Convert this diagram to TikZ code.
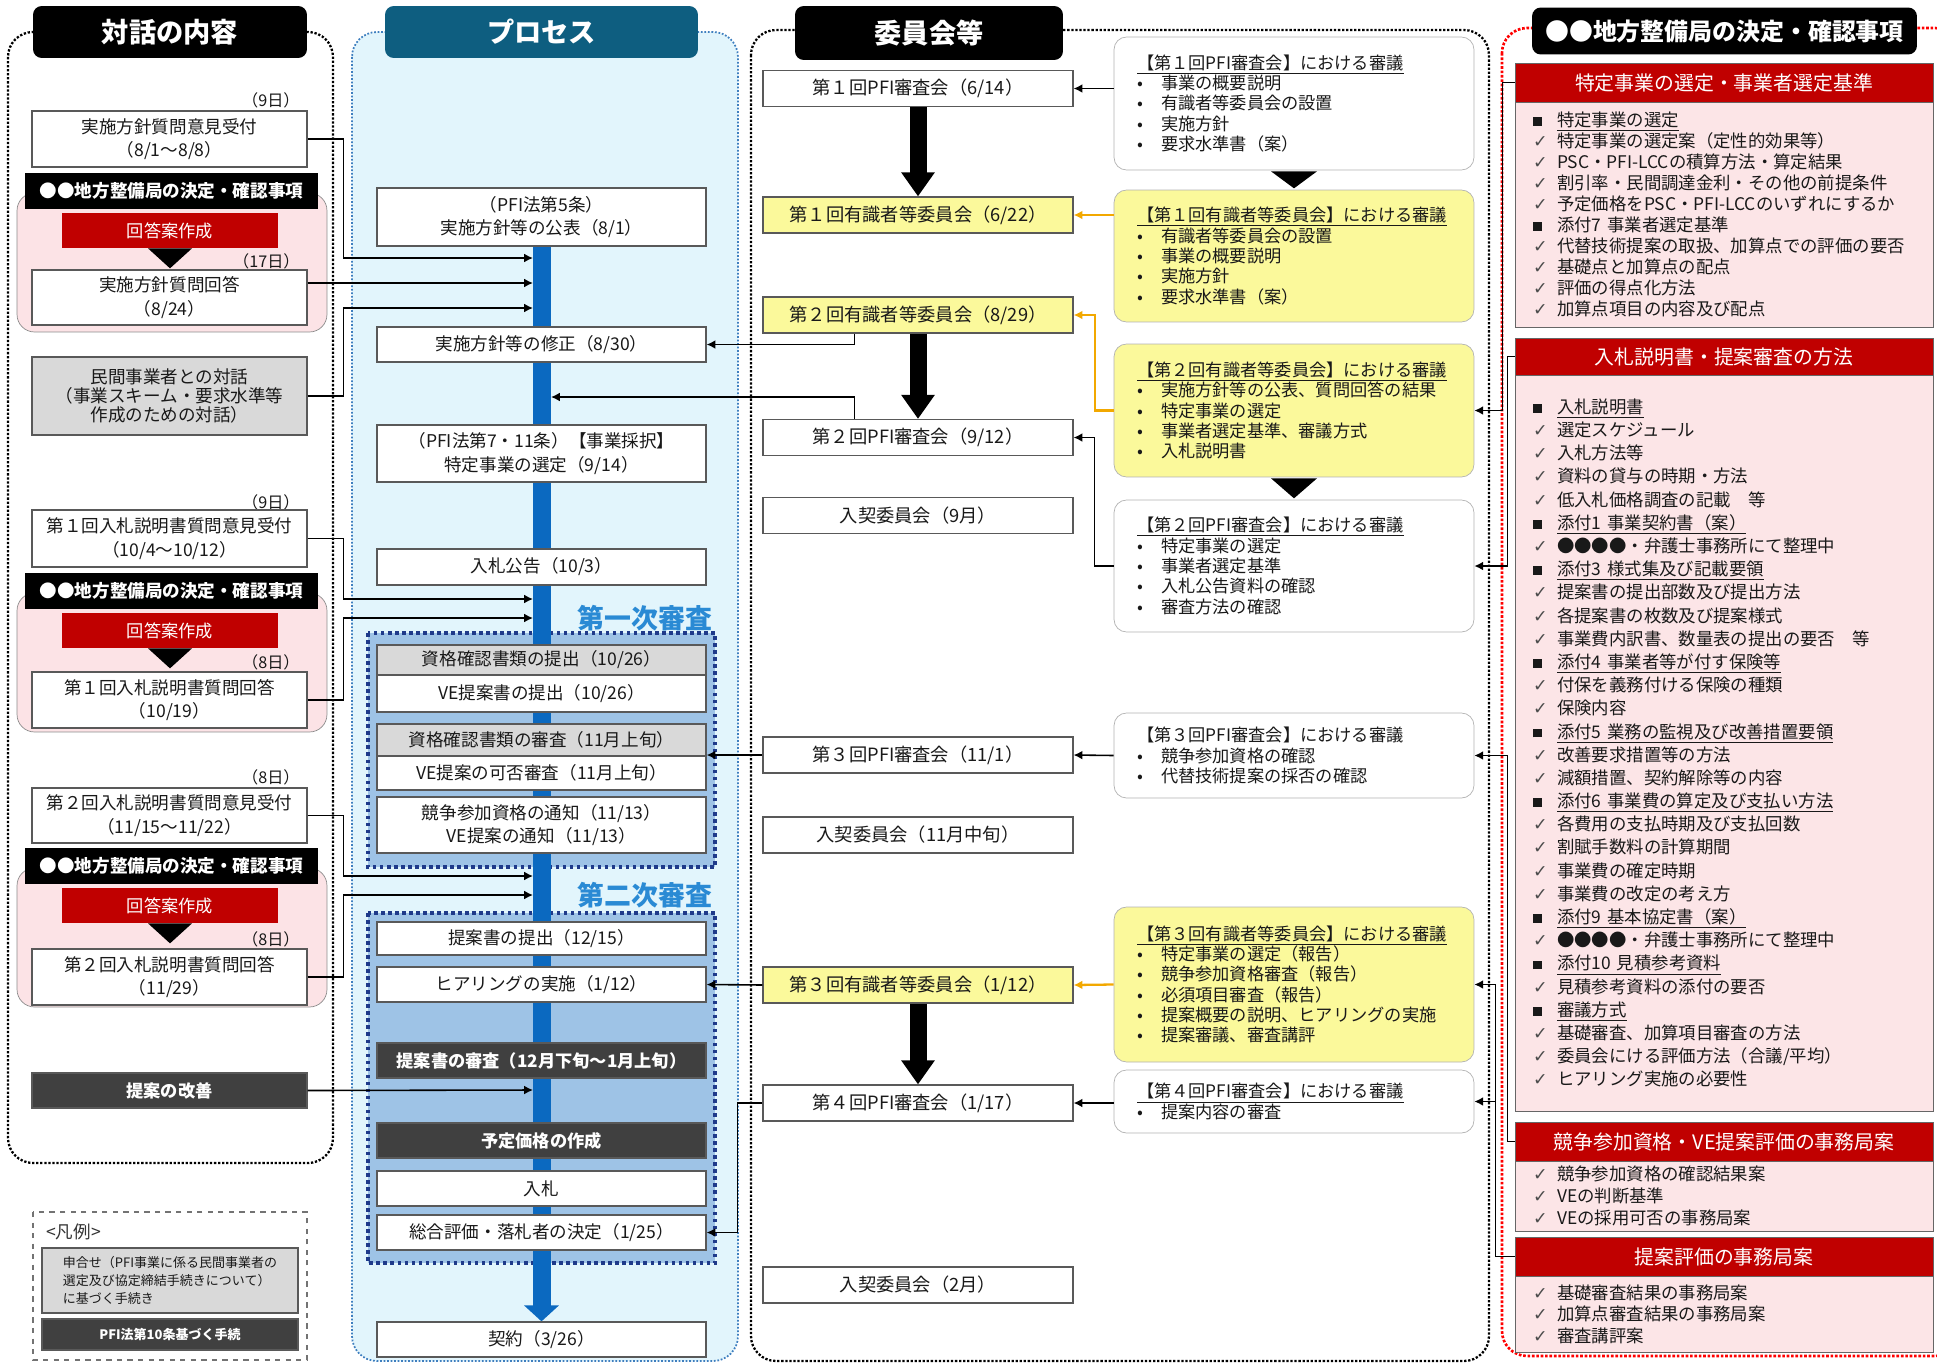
\documentclass[tikz,border=0pt]{standalone}
\usepackage{fontspec}
\setmainfont{Noto Sans CJK JP}
\newfontfamily\symfont{DejaVu Sans}
\usetikzlibrary{arrows.meta}
\definecolor{zonecyan}{HTML}{E2F5FC}
\definecolor{zoneblue}{HTML}{3F7FBF}
\definecolor{teal1}{HTML}{0E5E80}
\definecolor{barblue}{HTML}{0B69C0}
\definecolor{stagefill}{HTML}{9EC3E6}
\definecolor{stageline}{HTML}{1F3A8A}
\definecolor{stageblue}{HTML}{2A8AD4}
\definecolor{boxgray}{HTML}{D9D9D9}
\definecolor{boxdark}{HTML}{404040}
\definecolor{darkred}{HTML}{C00000}
\definecolor{pinkL}{HTML}{FCE3E6}
\definecolor{pinkR}{HTML}{FCE5E7}
\definecolor{yel}{HTML}{FBF99B}
\definecolor{orange1}{HTML}{F2A800}
\pgfdeclarelayer{back}
\pgfdeclarelayer{mid}
\pgfsetlayers{back,mid,main}
\newcommand{\itm}[1]{\makebox[0.48cm][l]{•}#1}
\newcommand{\chk}[1]{\makebox[0.48cm][l]{\symfont\color{black!70}✓}#1}
\newcommand{\sqr}[1]{\makebox[0.48cm][l]{\raisebox{0.4pt}{\rule{0.17cm}{0.17cm}}}#1}
\tikzset{
  box/.style={draw=black!65, line width=0.7pt, fill=white, align=center, inner sep=1pt, text=black!90, font=\fontsize{10}{13.4}\selectfont},
  lbox/.style={box, minimum width=5.5cm},
  pbox/.style={box, minimum width=6.58cm},
  cbox/.style={box, minimum width=6.2cm, minimum height=0.72cm, font=\fontsize{10.4}{13}\selectfont},
  graybox/.style={fill=boxgray},
  darkbox/.style={fill=boxdark, text=white, font=\fontsize{9.8}{13}\selectfont\bfseries},
  yelbox/.style={fill=yel},
  colhead/.style={fill=black, text=white, rounded corners=5pt, minimum height=1.04cm, font=\fontsize{15.5}{16}\selectfont\bfseries},
  band/.style={fill=black, text=white, minimum width=5.86cm, minimum height=0.72cm, inner sep=0pt, font=\fontsize{10}{11}\selectfont\bfseries},
  redbox/.style={fill=darkred, text=white, minimum width=4.32cm, minimum height=0.7cm, font=\fontsize{9.8}{11}\selectfont},
  pinkgrp/.style={draw=black!45, fill=pinkL, rounded corners=0.35cm, minimum width=6.2cm, minimum height=2.78cm},
  daylbl/.style={anchor=east, inner sep=0pt, text=black!90, font=\fontsize{9.2}{10}\selectfont},
  disc/.style={draw=black!30, fill=white, rounded corners=0.25cm, text width=6.28cm, inner xsep=0.46cm, align=left, text=black!90, font=\fontsize{9.8}{11.6}\selectfont},
  sechead/.style={draw=black!60, fill=darkred, text=white, minimum width=8.36cm, minimum height=0.78cm, font=\fontsize{11.3}{12}\selectfont},
  secbody/.style={draw=black!60, fill=pinkR, text width=7.64cm, inner xsep=0.36cm, inner ysep=1pt, align=left, text=black!90},
  arr/.style={line width=0.9pt, -{Latex[length=5pt,width=5pt]}},
  orarr/.style={arr, draw=orange1, line width=1.3pt},
  bigarr/.style={line width=0.34cm, -{Triangle[length=0.48cm,width=0.64cm]}},
  stagelbl/.style={text=stageblue, font=\fontsize{15.3}{16}\selectfont\bfseries},
  stagezone/.style={fill=stagefill, draw=stageline, line width=2pt, dash pattern=on 2pt off 2pt}
}
\begin{document}
\begin{tikzpicture}[x=0.02cm, y=-0.02cm]
\useasboundingbox (0,0) rectangle (1937,1363);
% column heads
\node[colhead, minimum width=5.48cm] (hdrL) at (170,32) {対話の内容};
\node[colhead, fill=teal1, minimum width=6.26cm] (hdrP) at (541.5,32) {プロセス};
\node[colhead, minimum width=5.36cm, minimum height=1.08cm] (hdrC) at (929,33) {委員会等};
\node[colhead, minimum width=7.7cm, minimum height=0.94cm, font=\fontsize{13.6}{14}\selectfont\bfseries] (hdrR) at (1724.5,31) {●●地方整備局の決定・確認事項};

% dialogue column
\node[daylbl] (dy1) at (300,100) {（9日）};
\node[lbox, minimum height=1.12cm] (qa1) at (169.5,139) {実施方針質問意見受付\\（8/1～8/8）};
\node[pinkgrp] (g1) at (172,262.5) {};
\node[band] (k1) at (171.5,190.5) {●●地方整備局の決定・確認事項};
\node[redbox] (r1) at (170,230.5) {回答案作成};
\fill (r1.south) ++(-22,0) -- ++(44,0) -- ++(-22,20) -- cycle;
\node[lbox, minimum height=1.1cm] (qa2) at (169.5,297.5) {実施方針質問回答\\（8/24）};
\node[daylbl] (dy2) at (300,261) {（17日）};
\node[lbox, graybox, minimum height=1.56cm, font=\fontsize{10}{11}\selectfont] (talk) at (169.5,396) {民間事業者との対話\\（事業スキーム・要求水準等\\作成のための対話）};
\node[daylbl] (dy3) at (300,502) {（9日）};
\node[lbox, minimum height=1.14cm] (qb1) at (169.5,538.5) {第１回入札説明書質問意見受付\\（10/4～10/12）};
\node[pinkgrp] (g2) at (172,662.5) {};
\node[band] (k2) at (171.5,591) {●●地方整備局の決定・確認事項};
\node[redbox] (r2) at (170,630.5) {回答案作成};
\fill (r2.south) ++(-22,0) -- ++(44,0) -- ++(-22,20) -- cycle;
\node[lbox, minimum height=1.12cm] (qb2) at (169.5,700) {第１回入札説明書質問回答\\（10/19）};
\node[daylbl] (dy4) at (300,662) {（8日）};
\node[daylbl] (dy5) at (300,777) {（8日）};
\node[lbox, minimum height=1.1cm] (qc1) at (169.5,815.5) {第２回入札説明書質問意見受付\\（11/15～11/22）};
\node[pinkgrp] (g3) at (172,937.5) {};
\node[band] (k3) at (171.5,865.5) {●●地方整備局の決定・確認事項};
\node[redbox] (r3) at (170,905.5) {回答案作成};
\fill (r3.south) ++(-22,0) -- ++(44,0) -- ++(-22,20) -- cycle;
\node[lbox, minimum height=1.12cm] (qc2) at (169.5,977) {第２回入札説明書質問回答\\（11/29）};
\node[daylbl] (dy6) at (300,939) {（8日）};
\node[lbox, darkbox, minimum height=0.7cm] (kaizen) at (169.5,1090.5) {提案の改善};

% legend
\draw[dashed, black!55, line width=0.8pt] (33,1212) rectangle (307,1360);
\node[anchor=west, text=black!80, font=\fontsize{10}{11}\selectfont] (legt) at (40,1232) {<凡例>};
\node[box, graybox, minimum width=5.12cm, minimum height=1.3cm, align=left, font=\fontsize{7.4}{10}\selectfont] (leg1) at (170,1280.5) {申合せ（PFI事業に係る民間事業者の\\選定及び協定締結手続きについて）\\に基づく手続き};
\node[box, darkbox, minimum width=5.12cm, minimum height=0.62cm, font=\fontsize{7.4}{9}\selectfont\bfseries] (leg2) at (170,1334.5) {PFI法第10条基づく手続};

% process column
\node[pbox, minimum height=1.16cm] (pub) at (541.5,217) {（PFI法第5条）\\実施方針等の公表（8/1）};
\node[pbox, minimum height=0.7cm] (fix) at (541.5,344.5) {実施方針等の修正（8/30）};
\node[pbox, minimum height=1.14cm] (sel) at (541.5,453.5) {（PFI法第7・11条）【事業採択】\\特定事業の選定（9/14）};
\node[pbox, minimum height=0.72cm] (koku) at (541.5,567) {入札公告（10/3）};
\node[stagelbl] (st1) at (645,618) {第一次審査};
\node[pbox, graybox, minimum height=0.6cm] (s1a) at (541.5,660) {資格確認書類の提出（10/26）};
\node[pbox, minimum height=0.74cm] (s1b) at (541.5,693.5) {VE提案書の提出（10/26）};
\node[pbox, graybox, minimum height=0.64cm] (s1c) at (541.5,740) {資格確認書類の審査（11月上旬）};
\node[pbox, minimum height=0.68cm] (s1d) at (541.5,773) {VE提案の可否審査（11月上旬）};
\node[pbox, minimum height=1.12cm] (s1e) at (541.5,825) {競争参加資格の通知（11/13）\\VE提案の通知（11/13）};
\node[stagelbl] (st2) at (645,895) {第二次審査};
\node[pbox, minimum height=0.66cm] (s2a) at (541.5,938.5) {提案書の提出（12/15）};
\node[pbox, minimum height=0.7cm] (s2b) at (541.5,984.5) {ヒアリングの実施（1/12）};
\node[pbox, darkbox, minimum height=0.7cm] (s2c) at (541.5,1060.5) {提案書の審査（12月下旬～1月上旬）};
\node[pbox, darkbox, minimum height=0.7cm] (s2d) at (541.5,1140.5) {予定価格の作成};
\node[pbox, minimum height=0.7cm] (s2e) at (541.5,1188.5) {入札};
\node[pbox, minimum height=0.7cm] (s2f) at (541.5,1232.5) {総合評価・落札者の決定（1/25）};
\node[pbox, minimum height=0.7cm] (keiyaku) at (541.5,1339.5) {契約（3/26）};
\coordinate (in1) at (533,258);
\coordinate (in2) at (533,283);
\coordinate (in3) at (533,308);
\coordinate (in4) at (533,599);
\coordinate (in5) at (533,618);
\coordinate (in6) at (533,876);
\coordinate (in7) at (533,895);
\coordinate (in8) at (533,1090);
\coordinate (inR) at (551,397);

% committee column
\node[cbox] (pfi1) at (918,88.5) {第１回PFI審査会（6/14）};
\node[cbox, yelbox] (exp1) at (918,215) {第１回有識者等委員会（6/22）};
\node[cbox, yelbox] (exp2) at (918,315) {第２回有識者等委員会（8/29）};
\node[cbox] (pfi2) at (918,437.5) {第２回PFI審査会（9/12）};
\node[cbox] (nyu1) at (918,515.5) {入契委員会（9月）};
\node[cbox] (pfi3) at (918,755) {第３回PFI審査会（11/1）};
\node[cbox] (nyu2) at (918,835) {入契委員会（11月中旬）};
\node[cbox, yelbox] (exp3) at (918,985) {第３回有識者等委員会（1/12）};
\node[cbox] (pfi4) at (918,1103) {第４回PFI審査会（1/17）};
\node[cbox] (nyu3) at (918,1285) {入契委員会（2月）};
\draw[bigarr] (pfi1.south) -- (exp1.north);
\draw[bigarr] (exp2.south) -- (pfi2.north);
\draw[bigarr] (exp3.south) -- (pfi4.north);

\node[disc, minimum height=2.66cm] (dis1) at (1294,103.5) {\underline{【第１回PFI審査会】における審議}\\\itm{事業の概要説明}\\\itm{有識者等委員会の設置}\\\itm{実施方針}\\\itm{要求水準書（案）}};
\fill (dis1.south) ++(-23,1) -- ++(46,0) -- ++(-23,17) -- cycle;
\node[disc, fill=yel, minimum height=2.64cm] (dis2) at (1294,256) {\underline{【第１回有識者等委員会】における審議}\\\itm{有識者等委員会の設置}\\\itm{事業の概要説明}\\\itm{実施方針}\\\itm{要求水準書（案）}};
\node[disc, fill=yel, minimum height=2.66cm] (dis3) at (1294,410.5) {\underline{【第２回有識者等委員会】における審議}\\\itm{実施方針等の公表、質問回答の結果}\\\itm{特定事業の選定}\\\itm{事業者選定基準、審議方式}\\\itm{入札説明書}};
\fill (dis3.south) ++(-23,1) -- ++(46,0) -- ++(-23,20) -- cycle;
\node[disc, minimum height=2.64cm] (dis4) at (1294,566) {\underline{【第２回PFI審査会】における審議}\\\itm{特定事業の選定}\\\itm{事業者選定基準}\\\itm{入札公告資料の確認}\\\itm{審査方法の確認}};
\node[disc, minimum height=1.7cm] (dis5) at (1294,755.5) {【第３回PFI審査会】における審議\\\itm{競争参加資格の確認}\\\itm{代替技術提案の採否の確認}};
\node[disc, fill=yel, minimum height=3.1cm] (dis6) at (1294,984.5) {\underline{【第３回有識者等委員会】における審議}\\\itm{特定事業の選定（報告）}\\\itm{競争参加資格審査（報告）}\\\itm{必須項目審査（報告）}\\\itm{提案概要の説明、ヒアリングの実施}\\\itm{提案審議、審査講評}};
\node[disc, minimum height=1.26cm] (dis7) at (1294,1101.5) {\underline{【第４回PFI審査会】における審議}\\\itm{提案内容の審査}};

% decision column
\node[sechead] (h1) at (1724,82.5) {特定事業の選定・事業者選定基準};
\node[secbody, minimum height=4.5cm, font=\fontsize{9.9}{12}\selectfont] (b1) at (1724,214.5) {\sqr{\underline{特定事業の選定}}\\\chk{特定事業の選定案（定性的効果等）}\\\chk{PSC・PFI-LCCの積算方法・算定結果}\\\chk{割引率・民間調達金利・その他の前提条件}\\\chk{予定価格をPSC・PFI-LCCのいずれにするか}\\\sqr{添付7 事業者選定基準}\\\chk{代替技術提案の取扱、加算点での評価の要否}\\\chk{基礎点と加算点の配点}\\\chk{評価の得点化方法}\\\chk{加算点項目の内容及び配点}};
\node[sechead, minimum height=0.74cm] (h2) at (1724,356.5) {入札説明書・提案審査の方法};
\node[secbody, minimum height=14.72cm, font=\fontsize{9.9}{13.2}\selectfont] (b2) at (1724,743) {\sqr{\underline{入札説明書}}\\\chk{選定スケジュール}\\\chk{入札方法等}\\\chk{資料の貸与の時期・方法}\\\chk{低入札価格調査の記載　等}\\\sqr{\underline{添付1 事業契約書（案）}}\\\chk{●●●●・弁護士事務所にて整理中}\\\sqr{\underline{添付3 様式集及び記載要領}}\\\chk{提案書の提出部数及び提出方法}\\\chk{各提案書の枚数及び提案様式}\\\chk{事業費内訳書、数量表の提出の要否　等}\\\sqr{\underline{添付4 事業者等が付す保険等}}\\\chk{付保を義務付ける保険の種類}\\\chk{保険内容}\\\sqr{\underline{添付5 業務の監視及び改善措置要領}}\\\chk{改善要求措置等の方法}\\\chk{減額措置、契約解除等の内容}\\\sqr{\underline{添付6 事業費の算定及び支払い方法}}\\\chk{各費用の支払時期及び支払回数}\\\chk{割賦手数料の計算期間}\\\chk{事業費の確定時期}\\\chk{事業費の改定の考え方}\\\sqr{\underline{添付9 基本協定書（案）}}\\\chk{●●●●・弁護士事務所にて整理中}\\\sqr{\underline{添付10 見積参考資料}}\\\chk{見積参考資料の添付の要否}\\\sqr{\underline{審議方式}}\\\chk{基礎審査、加算項目審査の方法}\\\chk{委員会にける評価方法（合議/平均）}\\\chk{ヒアリング実施の必要性}};
\node[sechead] (h3) at (1724,1141.5) {競争参加資格・VE提案評価の事務局案};
\node[secbody, minimum height=1.4cm, font=\fontsize{9.9}{12.5}\selectfont] (b3) at (1724,1196) {\chk{競争参加資格の確認結果案}\\\chk{VEの判断基準}\\\chk{VEの採用可否の事務局案}};
\node[sechead] (h4) at (1724,1256.5) {提案評価の事務局案};
\node[secbody, minimum height=1.52cm, font=\fontsize{9.9}{12.2}\selectfont] (b4) at (1724,1314) {\chk{基礎審査結果の事務局案}\\\chk{加算点審査結果の事務局案}\\\chk{審査講評案}};

% connectors
\draw[arr] (qa1.east) -- ++(36,0) |- (in1);
\draw[arr] (in2 -| qa2.east) -- (in2);
\draw[arr] (talk.east) -- ++(36,0) |- (in3);
\draw[arr] (qb1.east) -- ++(36,0) |- (in4);
\draw[arr] (qb2.east) -- ++(36,0) |- (in5);
\draw[arr] (qc1.east) -- ++(36,0) |- (in6);
\draw[arr] (qc2.east) -- ++(36,0) |- (in7);
\draw[arr] (kaizen.east) -- (in8);
\draw[arr] (exp2.south west) ++(92,0) |- (fix.east);
\draw[arr] (pfi2.north west) ++(92,0) |- (inR);
\draw[arr] (pfi3.west) -- (pfi3.west -| s1c.east);
\draw[arr] (exp3.west) -- (s2b.east);
\draw[arr] (pfi4.west) -- ++(-25,0) |- (s2f.east);
\draw[arr] (pfi1.east -| dis1.west) -- (pfi1.east);
\draw[orarr] (exp1.east -| dis2.west) -- (exp1.east);
\draw[orarr] (dis3.west) -- ++(-19,0) |- (exp2.east);
\draw[arr] (dis4.west) -- ++(-19,0) |- (pfi2.east);
\draw[arr] (dis5.west) -- (pfi3.east);
\draw[orarr] (dis6.west) -- (exp3.east);
\draw[arr] (pfi4.east -| dis7.west) -- (pfi4.east);
\draw[arr] (h1.west) -- ++(-12,0) |- (dis3.east);
\draw[arr] (h2.west) -- ++(-7,0) |- (dis4.east);
\draw[arr] (h3.west) -- ++(-7,0) |- (dis5.east);
\draw[arr] (h4.west) -- ++(-19,0) |- (dis6.east);
\draw[arr] (h4.west) ++(-19,0) |- (dis7.east);

\begin{pgfonlayer}{mid}
\draw[line width=0.36cm, barblue, -{Triangle[length=0.32cm,width=0.68cm]}] (pub.south) -- (keiyaku.north);
\end{pgfonlayer}
\begin{pgfonlayer}{back}
\draw[densely dotted, line width=1.3pt, rounded corners=0.5cm] (8,32) rectangle (333,1163);
\draw[densely dotted, line width=1pt, draw=zoneblue, fill=zonecyan, rounded corners=0.5cm] (352,32) rectangle (738,1361);
\draw[stagezone] (368,633) rectangle (715,867);
\draw[stagezone] (368,913) rectangle (715,1263);
\draw[densely dotted, line width=1.3pt, rounded corners=0.5cm] (751,30) rectangle (1489,1361);
\draw[densely dotted, line width=1.5pt, draw=red, rounded corners=0.5cm] (1502,28) rectangle (1960,1356);
\end{pgfonlayer}
\end{tikzpicture}
\end{document}
